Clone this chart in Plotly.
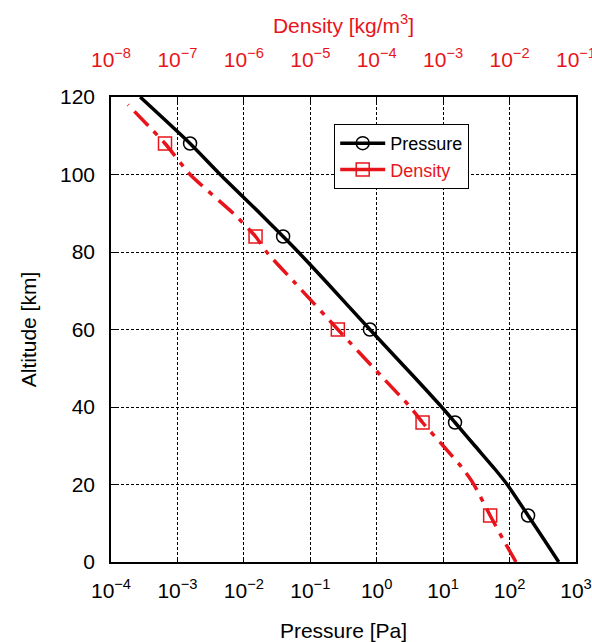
import plotly.graph_objects as go

# ---- data ----
alt_p = [0, 6, 12, 20, 24, 30, 36, 40, 48, 60, 72, 80, 84, 90, 100, 108, 120]
pressure = [550, 324, 190, 92, 60, 30, 15.1, 9.5, 3.55, 0.79, 0.18, 0.066, 0.039,
            0.0174, 4.4e-3, 1.55e-3, 2.75e-4]

alt_d = [0, 6, 12, 20, 24, 30, 36, 40, 48, 60, 72, 80, 84, 90, 100, 108, 118]
density = [1.25e-2, 7.9e-3, 5.1e-3, 2.9e-3, 2.0e-3, 1.0e-3, 4.9e-4, 3.2e-4, 1.17e-4,
           2.6e-5, 5.9e-6, 2.2e-6, 1.5e-6, 6.9e-7, 1.55e-7, 6.5e-8, 1.8e-8]

marker_alt = [12, 36, 60, 84, 108]
pressure_marks = [190, 15.1, 0.79, 0.039, 1.55e-3]
density_marks = [5.1e-3, 4.9e-4, 2.6e-5, 1.5e-6, 6.5e-8]

p_exps = [-4, -3, -2, -1, 0, 1, 2, 3]
d_exps = [-8, -7, -6, -5, -4, -3, -2, -1]
y_ticks = [0, 20, 40, 60, 80, 100, 120]

MINUS = "\u2212"
def sup_label(e):
    return "10<sup>" + (MINUS if e < 0 else "") + str(abs(e)) + "</sup>"

p_tickvals = [10.0 ** e for e in p_exps]
p_ticktext = [sup_label(e) for e in p_exps]
d_tickvals = [10.0 ** e for e in d_exps]
d_ticktext = [sup_label(e) for e in d_exps]

RED = "#e8141b"
FONT = "Arial, Liberation Sans, sans-serif"

fig = go.Figure()

fig.add_trace(go.Scatter(x=pressure, y=alt_p, mode="lines", xaxis="x", yaxis="y",
                         line=dict(color="black", width=3.5, shape="spline", smoothing=0.6),
                         showlegend=False))
fig.add_trace(go.Scatter(x=pressure_marks, y=marker_alt, mode="markers", xaxis="x", yaxis="y",
                         marker=dict(symbol="circle-open", size=13, color="black",
                                     line=dict(width=1.5, color="black")),
                         showlegend=False))
fig.add_trace(go.Scatter(x=density, y=alt_d, mode="lines", xaxis="x2", yaxis="y",
                         line=dict(color=RED, width=3.5, dash="20px,8px,5px,8px",
                                   shape="spline", smoothing=0.6),
                         showlegend=False))
fig.add_trace(go.Scatter(x=density_marks, y=marker_alt, mode="markers", xaxis="x2", yaxis="y",
                         marker=dict(symbol="square-open", size=13, color=RED,
                                     line=dict(width=1.5, color=RED)),
                         showlegend=False))

# legend entries
fig.add_trace(go.Scatter(x=[None], y=[None], mode="lines+markers", name="Pressure",
                         xaxis="x", yaxis="y",
                         line=dict(color="black", width=3.5),
                         marker=dict(symbol="circle-open", size=13, color="black",
                                     line=dict(width=1.5, color="black"))))
fig.add_trace(go.Scatter(x=[None], y=[None], mode="lines+markers",
                         name='<span style="color:%s">Density</span>' % RED,
                         xaxis="x2", yaxis="y",
                         line=dict(color=RED, width=3.5),
                         marker=dict(symbol="square-open", size=13, color=RED,
                                     line=dict(width=1.5, color=RED))))

fig.update_layout(
    width=592, height=642,
    margin=dict(l=111, r=16, t=97, b=80),
    paper_bgcolor="white", plot_bgcolor="white",
    font=dict(family=FONT, size=21, color="black"),
    xaxis=dict(type="log", range=[-4, 3], tickvals=p_tickvals, ticktext=p_ticktext,
               automargin=False, ticklabeloverflow="allow",
               showgrid=True, gridcolor="black", gridwidth=1, griddash="3px,2px",
               showline=True, linecolor="black", linewidth=1.5, mirror=True,
               ticks="inside", ticklen=5, tickcolor="black",
               tickfont=dict(size=21), ticklabelstandoff=9,
               title=dict(text="Pressure [Pa]", font=dict(size=21), standoff=22),
               zeroline=False),
    xaxis2=dict(type="log", range=[-8, -1], overlaying="x", side="top", anchor="y",
                automargin=False, ticklabeloverflow="allow",
                tickvals=d_tickvals, ticktext=d_ticktext,
                showgrid=False, showline=True, linecolor="black", linewidth=1.5,
                ticks="inside", ticklen=5, tickcolor="black",
                tickfont=dict(size=21, color=RED), ticklabelstandoff=20,
                title=dict(text="Density [kg/m<sup>3</sup>]", font=dict(size=21, color=RED),
                           standoff=6),
                zeroline=False),
    yaxis=dict(range=[0, 120], tickvals=y_ticks, automargin=False,
               showgrid=True, gridcolor="black", gridwidth=1, griddash="3px,2px",
               showline=True, linecolor="black", linewidth=1.5, mirror="ticks",
               ticks="inside", ticklen=5, tickcolor="black",
               tickfont=dict(size=21), ticklabelstandoff=10,
               title=dict(text="Altitude [km]", font=dict(size=21), standoff=18),
               zeroline=False),
    legend=dict(x=0.48, y=0.942, xanchor="left", yanchor="top",
                bgcolor="white", bordercolor="black", borderwidth=1,
                itemwidth=45,
                font=dict(size=18, color="black")),
)

fig.write_html("out.html")
